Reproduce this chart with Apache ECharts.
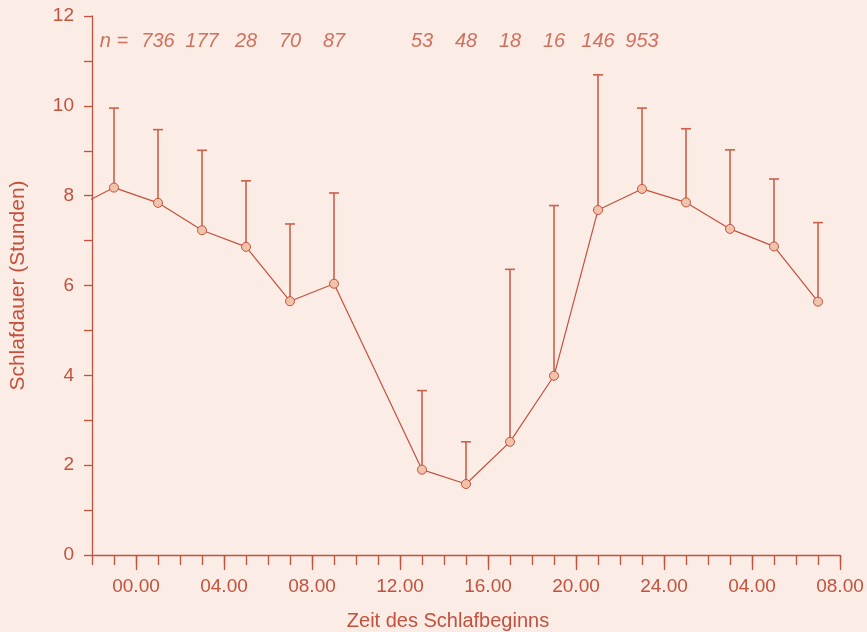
<!DOCTYPE html>
<html>
<head>
<meta charset="utf-8">
<script src="https://cdn.jsdelivr.net/npm/echarts@6/dist/echarts.min.js"></script>
<style>
html,body{margin:0;padding:0;background:#fbece5;}
#chart{width:867px;height:632px;}
</style>
</head>
<body>
<div id="chart"></div>
<script>
// Hours of sleep onset (hours since midnight; values > 24 are the next day)
const hours = [-1, 1, 3, 5, 7, 9, 13, 15, 17, 19, 21, 23, 25, 27, 29, 31];
// Mean sleep duration (hours)
const meanSleep = [8.18, 7.84, 7.23, 6.86, 5.65, 6.04, 1.90, 1.58, 2.52, 3.99, 7.68, 8.15, 7.85, 7.26, 6.87, 5.64];
// Upper end of the error bar (mean + SD)
const upperSD = [9.95, 9.47, 9.01, 8.33, 7.37, 8.06, 3.66, 2.52, 6.36, 7.78, 10.69, 9.95, 9.49, 9.02, 8.37, 7.40];
// Line lead-in from the previous day (21:00 value, off the left edge)
const leadHour = -3;
const leadValue = 7.68;
// Sample sizes
const nHours = [-1, 1, 3, 5, 7, 9, 13, 15, 17, 19, 21, 23];
const nLabels = ['n =', '736', '177', '28', '70', '87', '53', '48', '18', '16', '146', '953'];
const nRowValue = 11.43;
// Axis ticks
const xTickValues = [0, 4, 8, 12, 16, 20, 24, 28, 32];
const xTickLabels = ['00.00', '04.00', '08.00', '12.00', '16.00', '20.00', '24.00', '04.00', '08.00'];
const xMinorTicks = [];
for (let h = -2; h <= 32; h++) xMinorTicks.push(h);

const C = '#c4513d';
const BAR = '#cc604b';
const FONT = '"Liberation Sans", Arial, sans-serif';

const chart = echarts.init(document.getElementById('chart'));

const lineData = [{ value: [leadHour, leadValue], symbol: 'none' }]
  .concat(hours.map((h, i) => [h, meanSleep[i]]));
const errData = hours.map((h, i) => [h, meanSleep[i], upperSD[i]]);
const nData = nHours.map((h, i) => [h, nRowValue, nLabels[i]]);

chart.setOption({
  backgroundColor: '#fbece5',
  animation: false,
  grid: { left: 92, right: 27, top: 16, bottom: 77, containLabel: false, outerBoundsMode: 'none' },
  xAxis: [{
    type: 'value',
    min: -2, max: 32,
    name: 'Zeit des Schlafbeginns',
    nameLocation: 'middle',
    nameGap: 56,
    nameTextStyle: { color: C, fontSize: 20, fontFamily: FONT, padding: [0, 36, 0, 0] },
    axisLine: { show: true, onZero: false, lineStyle: { color: C, width: 1.3 } },
    axisTick: { show: true, customValues: xMinorTicks, length: 10, lineStyle: { color: C, width: 1.3 } },
    axisLabel: {
      show: true, customValues: xTickValues, margin: 22,
      color: C, fontSize: 19, fontFamily: FONT,
      formatter: v => { const i = xTickValues.indexOf(v); return i >= 0 ? xTickLabels[i] : ''; }
    },
    splitLine: { show: false }
  }, {
    type: 'value',
    min: -2, max: 32,
    position: 'bottom',
    axisLine: { show: false, onZero: false },
    axisTick: { show: true, customValues: xTickValues, length: 15, lineStyle: { color: C, width: 1.3 } },
    axisLabel: { show: false },
    splitLine: { show: false }
  }],
  yAxis: {
    type: 'value',
    min: 0, max: 12, interval: 2,
    name: 'Schlafdauer (Stunden)',
    nameLocation: 'middle',
    nameGap: 63,
    nameTextStyle: { color: C, fontSize: 21, fontFamily: FONT },
    axisLine: { show: true, onZero: false, lineStyle: { color: C, width: 1.3 } },
    axisTick: { show: true, length: 8, lineStyle: { color: C, width: 1.3 } },
    minorTick: { show: true, splitNumber: 2, length: 8, lineStyle: { color: C, width: 1.3 } },
    axisLabel: { color: C, fontSize: 19, fontFamily: FONT, margin: 18 },
    splitLine: { show: false }
  },
  series: [{
    type: 'custom',
    xAxisIndex: 0,
    data: errData,
    z: 1,
    renderItem: (params, api) => {
      const p0 = api.coord([api.value(0), api.value(1)]);
      const p1 = api.coord([api.value(0), api.value(2)]);
      const style = { stroke: BAR, lineWidth: 1.6 };
      return {
        type: 'group',
        children: [
          { type: 'line', shape: { x1: p0[0], y1: p0[1], x2: p1[0], y2: p1[1] }, style: style },
          { type: 'line', shape: { x1: p1[0] - 5, y1: p1[1], x2: p1[0] + 5, y2: p1[1] }, style: style }
        ]
      };
    }
  }, {
    type: 'line',
    xAxisIndex: 0,
    data: lineData,
    clip: true,
    z: 2,
    symbol: 'circle',
    symbolSize: 9,
    showAllSymbol: true,
    lineStyle: { color: C, width: 1.2 },
    itemStyle: { color: '#f2c3ab', borderColor: C, borderWidth: 1 }
  }, {
    type: 'scatter',
    xAxisIndex: 0,
    data: nData,
    symbolSize: 0,
    silent: true,
    label: {
      show: true, position: 'inside',
      formatter: p => p.value[2],
      color: C, fontSize: 20, fontStyle: 'italic', fontFamily: FONT
    }
  }]
});
</script>
</body>
</html>
